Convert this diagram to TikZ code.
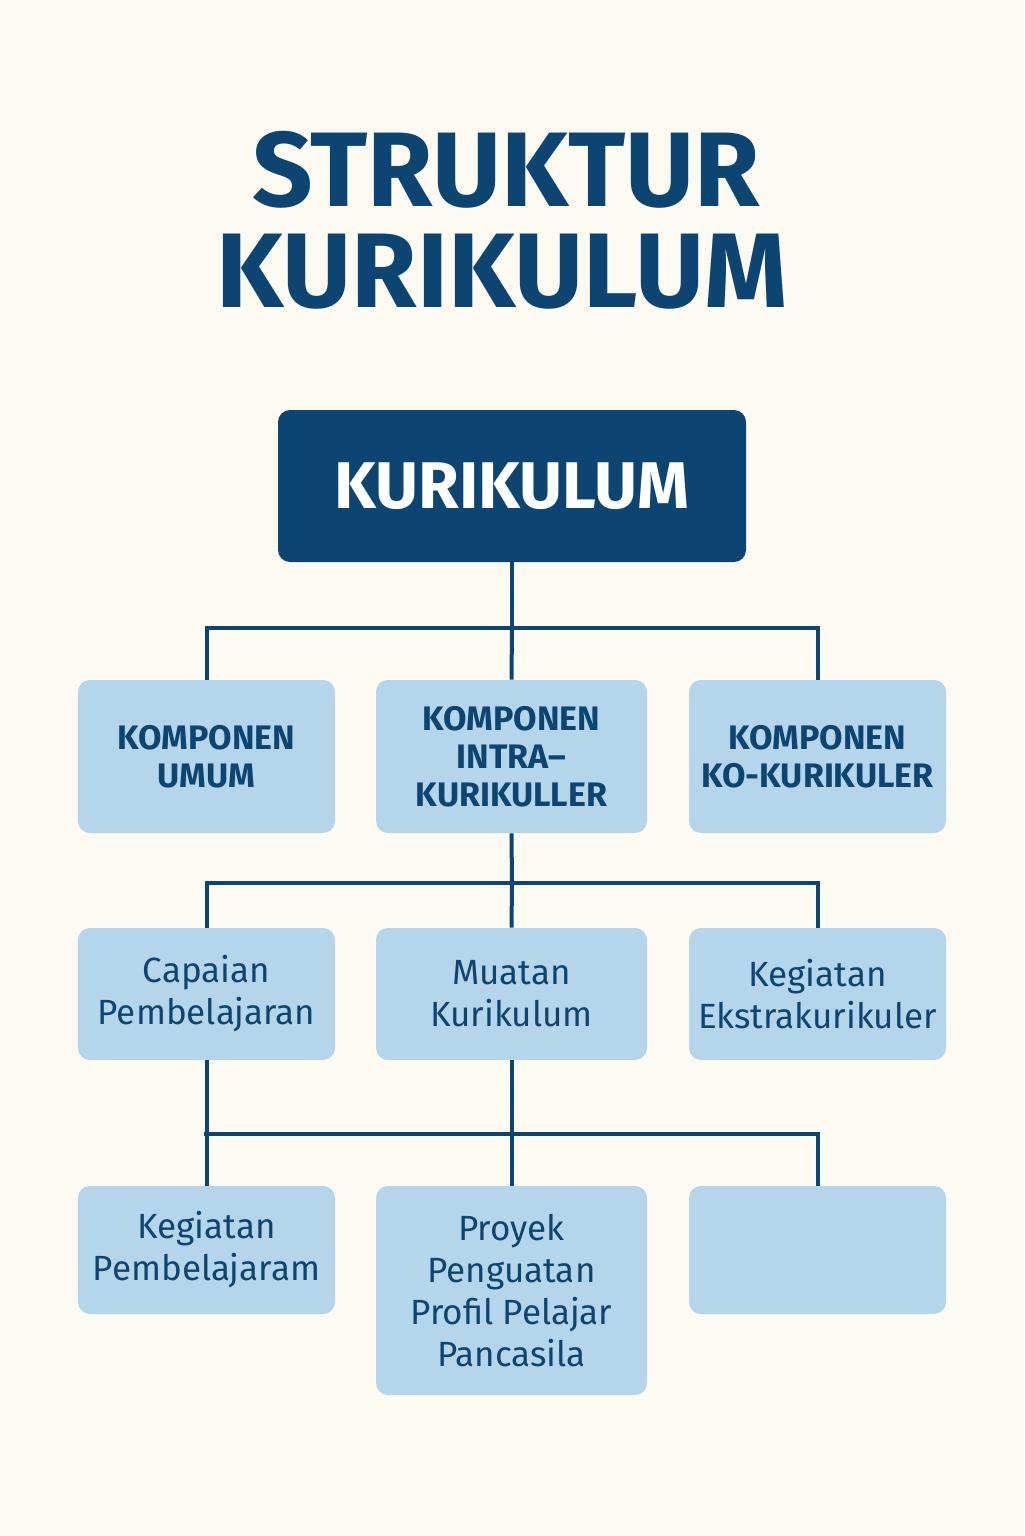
\documentclass[tikz,border=0pt]{standalone}
\usepackage{fontspec}
\setmainfont{Fira Sans}
\usepackage{tikz}
\definecolor{navy}{HTML}{0D4572}
\definecolor{pale}{HTML}{B5D5EA}
\definecolor{cream}{HTML}{FCFAF1}
\tikzset{
  topbox/.style={fill=navy, rounded corners=6pt, text=white, font=\bfseries\fontsize{33}{36}\selectfont,
    minimum width=234pt, minimum height=76pt, inner sep=0pt},
  compbox/.style={fill=pale, rounded corners=6pt, text=navy, align=center, inner sep=0pt,
    font=\bfseries\fontsize{17}{19}\selectfont},
  itembox/.style={fill=pale, rounded corners=6pt, text=navy, align=center, inner sep=0pt,
    font=\fontsize{17.5}{21}\selectfont},
  link/.style={draw=navy, line width=2pt}
}
\begin{document}
\begin{tikzpicture}[x=0.5pt,y=-0.5pt]
	\fill[cream] (0,0) rectangle (1024,1536);
	\useasboundingbox (0,0) rectangle (1024,1536);
	% title
	\node[text=navy, font=\bfseries\fontsize{53}{55}\selectfont] (title1) at (506,170) {STRUKTUR};
	\node[text=navy, font=\bfseries\fontsize{53}{55}\selectfont] (title2) at (502,272) {KURIKULUM};
	% top
	\node[topbox] (kur) at (512,486) {KURIKULUM};
	% components
	\node[compbox, minimum width=128.5pt, minimum height=76.5pt] (umum) at (206.5,756.5) {KOMPONEN\\UMUM};
	\node[compbox, minimum width=135.5pt, minimum height=76.5pt] (intra) at (511.5,756.5) {KOMPONEN\\INTRA--\\KURIKULLER};
	\node[compbox, minimum width=128.5pt, minimum height=76.5pt] (ko) at (817.5,756.5) {KOMPONEN\\KO-KURIKULER};
	% items
	\node[itembox, minimum width=128.5pt, minimum height=66pt] (cp) at (206.5,994) {Capaian\\Pembelajaran};
	\node[itembox, minimum width=135.5pt, minimum height=66pt] (muatan) at (511.5,994) {Muatan\\Kurikulum};
	\node[itembox, minimum width=128.5pt, minimum height=66pt] (ekstra) at (817.5,994) {Kegiatan\\Ekstrakurikuler};
	\node[itembox, minimum width=128.5pt, minimum height=64pt] (kp) at (206.5,1250) {Kegiatan\\Pembelajaram};
	\node[itembox, minimum width=135.5pt, minimum height=104.5pt] (p5) at (511.5,1290.5) {Proyek\\Penguatan\\Profil Pelajar\\Pancasila};
	\node[itembox, minimum width=128.5pt, minimum height=64pt] (kosong) at (817.5,1250) {};
	% links
	\coordinate (j1) at (512,628);
	\coordinate (j2) at (512,883);
	\coordinate (j3) at (512,1134);
	\draw[link] (kur.south) -- (j1);
	\draw[link] (umum.north) |- (j1) -| (ko.north);
	\draw[link] (j1) -- (intra.north);
	\draw[link] (intra.south) -- (j2);
	\draw[link] (cp.north) |- (j2) -| (ekstra.north);
	\draw[link] (j2) -- (muatan.north);
	\draw[link] (cp.south) -- (kp.north);
	\draw[link] (muatan.south) -- (p5.north);
	\draw[link] (204,1134) -- (j3) -| (kosong.north);
\end{tikzpicture}
\end{document}
